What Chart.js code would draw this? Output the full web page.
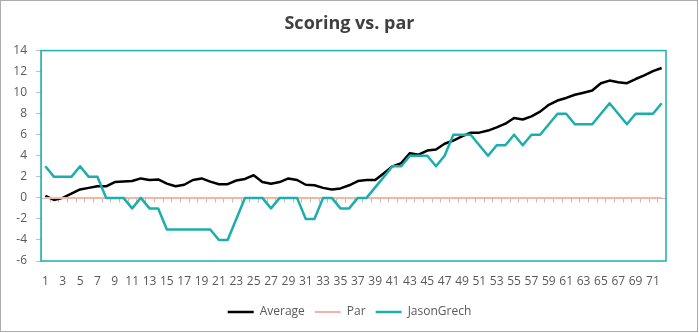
<!DOCTYPE html>
<html>
<head>
<meta charset="utf-8">
<title>Scoring vs. par</title>
<script src="https://cdn.jsdelivr.net/npm/chart.js@4"></script>
<style>
  html, body { margin: 0; padding: 0; background: #fff; }
  #wrap { width: 699px; height: 333px; }
</style>
</head>
<body>
<div id="wrap"><canvas id="myChart" width="699" height="333"></canvas></div>
<script>
// rounds played
var rounds = [
  1, 2, 3, 4, 5, 6, 7, 8, 9, 10, 11, 12, 13, 14, 15, 16, 17, 18,
  19, 20, 21, 22, 23, 24, 25, 26, 27, 28, 29, 30, 31, 32, 33, 34, 35, 36,
  37, 38, 39, 40, 41, 42, 43, 44, 45, 46, 47, 48, 49, 50, 51, 52, 53, 54,
  55, 56, 57, 58, 59, 60, 61, 62, 63, 64, 65, 66, 67, 68, 69, 70, 71, 72
];

// cumulative score vs. par
var average = [
  0.2, -0.2, 0.0, 0.4, 0.8, 0.95, 1.1, 1.1, 1.5, 1.55,
  1.6, 1.85, 1.7, 1.75, 1.35, 1.1, 1.25, 1.7, 1.85, 1.55,
  1.3, 1.3, 1.65, 1.8, 2.15, 1.5, 1.35, 1.5, 1.85, 1.7,
  1.25, 1.2, 0.95, 0.8, 0.9, 1.2, 1.6, 1.7, 1.7, 2.35,
  3.0, 3.3, 4.25, 4.1, 4.5, 4.6, 5.15, 5.45, 5.85, 6.2,
  6.2, 6.4, 6.7, 7.05, 7.6, 7.45, 7.75, 8.2, 8.85, 9.25,
  9.5, 9.8, 10.0, 10.2, 10.9, 11.15, 11.0, 10.9, 11.3, 11.65, 12.05, 12.35
];
var par = [
  0, 0, 0, 0, 0, 0, 0, 0, 0, 0, 0, 0, 0, 0, 0, 0, 0, 0,
  0, 0, 0, 0, 0, 0, 0, 0, 0, 0, 0, 0, 0, 0, 0, 0, 0, 0,
  0, 0, 0, 0, 0, 0, 0, 0, 0, 0, 0, 0, 0, 0, 0, 0, 0, 0,
  0, 0, 0, 0, 0, 0, 0, 0, 0, 0, 0, 0, 0, 0, 0, 0, 0, 0
];
var jasonGrech = [
  3, 2, 2, 2, 3, 2, 2, 0, 0, 0,
  -1, 0, -1, -1, -3, -3, -3, -3, -3, -3,
  -4, -4, -2, 0, 0, 0, -1, 0, 0, 0,
  -2, -2, 0, 0, -1, -1, 0, 0, 1, 2,
  3, 3, 4, 4, 4, 3, 4, 6, 6, 6,
  5, 4, 5, 5, 6, 5, 6, 6, 7, 8,
  8, 7, 7, 7, 8, 9, 8, 7, 8, 8, 8, 9
];

const FONT = "'Open Sans', 'Noto Sans', sans-serif";
const TEAL = '#1BAEAC';

// frame, plot border and the little ticks along the zero axis
const chartFrame = {
  id: 'chartFrame',
  beforeDatasetsDraw(chart) {
    const c = chart.ctx;
    const a = chart.chartArea;
    const x = chart.scales.x;
    const y0 = Math.round(chart.scales.y.getPixelForValue(0)) + 0.5;
    c.save();
    c.strokeStyle = '#BFBFBF';
    c.lineWidth = 1;
    c.beginPath();
    c.moveTo(a.left, y0);
    c.lineTo(a.right, y0);
    for (let i = 0; i < rounds.length - 1; i++) {
      const tx = Math.round((x.getPixelForValue(i) + x.getPixelForValue(i + 1)) / 2) + 0.5;
      c.moveTo(tx, y0);
      c.lineTo(tx, y0 + 4);
    }
    c.stroke();
    c.strokeStyle = TEAL;
    c.lineWidth = 1.5;
    c.strokeRect(a.left, a.top, a.right - a.left, a.bottom - a.top);
    c.restore();
  },
  afterDraw(chart) {
    const c = chart.ctx;
    c.save();
    c.strokeStyle = '#ABABAB';
    c.lineWidth = 1;
    c.strokeRect(0.5, 0.5, chart.width - 2, chart.height - 2);
    c.restore();
  }
};

new Chart(document.getElementById('myChart'), {
  type: 'line',
  data: {
    labels: rounds,
    datasets: [
      {
        label: 'Average',
        data: average,
        borderColor: '#000000',
        backgroundColor: '#000000',
        borderWidth: 2.5,
        order: 2,
      },
      {
        label: 'Par',
        data: par,
        borderColor: '#F5B5A2',
        backgroundColor: '#F5B5A2',
        borderWidth: 2,
        order: 1,
      },
      {
        label: 'JasonGrech',
        data: jasonGrech,
        borderColor: TEAL,
        backgroundColor: TEAL,
        borderWidth: 2.5,
        order: 0,
      },
    ],
  },
  options: {
    responsive: false,
    animation: false,
    devicePixelRatio: 1,
    elements: {
      point: { radius: 0, hoverRadius: 0 },
      line: { tension: 0, borderJoinStyle: 'round' },
    },
    layout: { padding: { left: 0, right: 0, top: 0, bottom: 5 } },
    plugins: {
      title: {
        display: true,
        text: 'Scoring vs. par',
        color: '#404040',
        font: { family: FONT, size: 18, weight: 'bold' },
        padding: { top: 13, bottom: 16 },
      },
      legend: {
        position: 'bottom',
        labels: {
          usePointStyle: true,
          pointStyle: 'line',
          pointStyleWidth: 26,
          boxWidth: 26,
          boxHeight: 12,
          padding: 10,
          color: '#595959',
          font: { family: FONT, size: 12 },
          sort: (a, b) => a.datasetIndex - b.datasetIndex,
        },
      },
      tooltip: { enabled: false },
    },
    scales: {
      x: {
        offset: true,
        grid: { display: false },
        border: { display: false },
        ticks: {
          autoSkip: false,
          maxRotation: 0,
          minRotation: 0,
          // mirrored so the labels are not clipped to the axis box
          mirror: true,
          padding: -28,
          color: '#595959',
          font: { family: FONT, size: 12 },
          callback: function (value, index) {
            return index % 2 === 0 ? rounds[index] : '';
          },
        },
        afterFit: function (scale) {
          scale.height = 35;
        },
      },
      y: {
        min: -6,
        max: 14,
        grid: {
          drawOnChartArea: false,
          drawTicks: true,
          tickLength: 5,
          color: '#BFBFBF',
        },
        border: { display: true, color: '#BFBFBF' },
        ticks: {
          stepSize: 2,
          padding: 9,
          color: '#595959',
          font: { family: FONT, size: 12 },
        },
        afterFit: function (scale) {
          scale.width = 41;
        },
      },
      // empty right-hand margin beside the plot
      yRight: {
        position: 'right',
        display: true,
        grid: { display: false },
        border: { display: false },
        ticks: { display: false },
        afterFit: function (scale) {
          scale.width = 33;
        },
      },
    },
  },
  plugins: [chartFrame],
});
</script>
</body>
</html>
